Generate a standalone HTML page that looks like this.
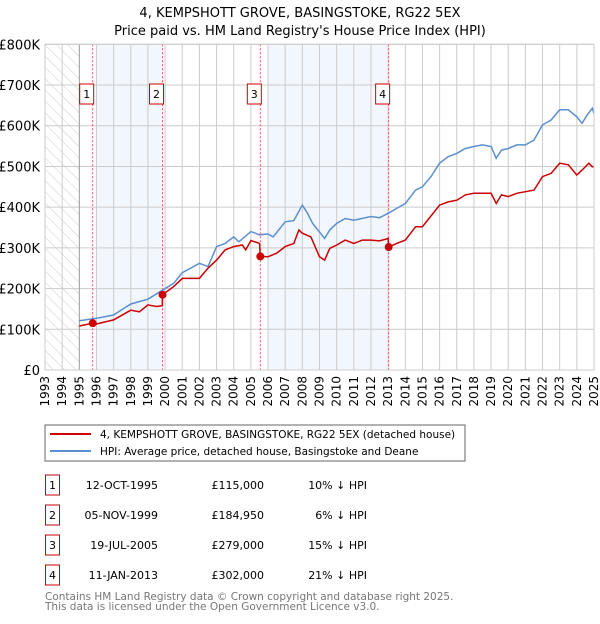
<!DOCTYPE html>
<html><head><meta charset="utf-8"><style>
body{margin:0;background:#fff;font-family:"DejaVu Sans","Liberation Sans",sans-serif;}
svg text{font-family:"DejaVu Sans","Liberation Sans",sans-serif;}
</style></head><body>
<svg id="c" width="600" height="620" viewBox="0 0 600 620" xmlns="http://www.w3.org/2000/svg">
<defs><pattern id="hatch" width="8" height="8" patternUnits="userSpaceOnUse" patternTransform="rotate(-45)"><line x1="0" y1="0" x2="0" y2="8" stroke="#ccc" stroke-width="1"/></pattern></defs>
<text x="300" y="17" text-anchor="middle" font-size="13">4, KEMPSHOTT GROVE, BASINGSTOKE, RG22 5EX</text>
<text x="300" y="35" text-anchor="middle" font-size="13">Price paid vs. HM Land Registry's House Price Index (HPI)</text>
<g id="plot"></g>
<rect x="45" y="425" width="420" height="36" fill="#fff" stroke="#666"/>
<line x1="50" y1="434" x2="91" y2="434" stroke="#cc0000" stroke-width="2"/>
<text x="100" y="438" font-size="10.5">4, KEMPSHOTT GROVE, BASINGSTOKE, RG22 5EX (detached house)</text>
<line x1="50" y1="451" x2="91" y2="451" stroke="#5b8fd0" stroke-width="2"/>
<text x="100" y="455" font-size="10.5">HPI: Average price, detached house, Basingstoke and Deane</text>
<g id="table" font-size="11"></g>
<text x="45" y="600" font-size="10.5" fill="#777">Contains HM Land Registry data © Crown copyright and database right 2025.</text>
<text x="45" y="610" font-size="10.5" fill="#777">This data is licensed under the Open Government Licence v3.0.</text>
</svg>
<script>
const hpiYears=[1995,1996,1997,1998,1999,1999.85,2000.5,2001,2002,2002.5,2003,2003.5,2004,2004.3,2005,2005.5,2006,2006.3,2007,2007.5,2008,2008.3,2008.6,2009.3,2009.6,2010,2010.5,2011,2012,2012.5,2013,2013.5,2014,2014.6,2015,2015.5,2016,2016.5,2017,2017.5,2018,2018.5,2019,2019.3,2019.6,2020,2020.5,2021,2021.5,2022,2022.5,2023,2023.5,2024,2024.3,2024.6,2024.9,2025];
const hpiValues=[121,127,135,162,174,196,213,239,262,254,303,311,327,315,340,332,334,327,364,367,405,385,360,323,344,360,372,368,377,374,385,397,409,442,450,475,508,524,532,544,549,553,549,520,540,544,553,553,565,602,614,639,639,622,606,626,643,630];
const priceYears=[1995,1995.78,1996,1997,1998,1998.5,1999,1999.5,1999.84,1999.85,2000.5,2001,2002,2002.5,2003,2003.5,2004,2004.5,2004.7,2005,2005.5,2005.55,2006,2006.5,2007,2007.5,2007.8,2008,2008.5,2009,2009.3,2009.6,2010,2010.5,2011,2011.5,2012,2012.5,2013,2013.03,2013.5,2014,2014.6,2015,2016,2016.5,2017,2017.5,2018,2018.5,2019,2019.3,2019.6,2020,2020.5,2021,2021.5,2022,2022.5,2023,2023.5,2024,2024.3,2024.7,2024.9,2025];
const priceValues=[108,115,113,123,147,143,160,156,158,185,205,225,225,250,270,295,303,307,295,318,311,279,278,287,303,311,344,336,327,278,270,299,307,319,311,319,319,317,323,302,311,319,352,352,405,413,417,430,434,434,434,409,430,426,434,438,442,475,483,508,504,479,491,508,499,500];
const saleYears=[1995.78,1999.85,2005.55,2013.03];
const saleValues=[115,184.95,279,302];
const saleLabels=["1","2","3","4"];
const saleDates=["12-OCT-1995","05-NOV-1999","19-JUL-2005","11-JAN-2013"];
const salePrices=["£115,000","£184,950","£279,000","£302,000"];
const saleDiffs=["10% ↓ HPI","6% ↓ HPI","15% ↓ HPI","21% ↓ HPI"];
const yTicks=[0,100,200,300,400,500,600,700,800];
const yTickLabels=["£0","£100K","£200K","£300K","£400K","£500K","£600K","£700K","£800K"];
const xStart=1993,xEnd=2025;
const X0=45,X1=594,Y0=370,Y1=44.3;
const xs=y=>X0+(y-xStart)/(xEnd-xStart)*(X1-X0);
const ys=v=>Y0-v/800*(Y0-Y1);
const NS="http://www.w3.org/2000/svg";
const g=document.getElementById('plot');
function mk(t,a,p){const e=document.createElementNS(NS,t);for(const k in a)e.setAttribute(k,a[k]);(p||g).appendChild(e);return e;}
let e;
e=mk('rect',{x:xs(1996),y:Y1,width:xs(1999.85)-xs(1996),height:Y0-Y1,fill:'#f2f6fd'});


e=mk('rect',{x:xs(2006),y:Y1,width:xs(2013.03)-xs(2006),height:Y0-Y1,fill:'#f2f6fd'});


e=mk('rect',{x:X0,y:Y1,width:xs(1995)-X0,height:Y0-Y1,fill:'url(#hatch)'});


for(let i=0;i<yTicks.length;i++){
 e=mk('line',{x1:X0,x2:X1,y1:ys(yTicks[i]),y2:ys(yTicks[i]),stroke:'#ccc'});
 
 
 e=mk('text',{x:40,y:ys(yTicks[i])+5,'text-anchor':'end','font-size':13});
 e.textContent=yTickLabels[i];
 
 
}
for(let yr=xStart;yr<=xEnd;yr++){
 e=mk('line',{x1:xs(yr),x2:xs(yr),y1:Y1,y2:Y0,stroke:yr===1995?'#999':'#ccc'});
 
 
 e=mk('text',{x:0,y:0,'font-size':12,'text-anchor':'end',transform:`translate(${xs(yr)+4},376) rotate(-90)`});
 e.textContent=String(yr);
 
 
}
for(let i=0;i<saleYears.length;i++){
 e=mk('line',{x1:xs(saleYears[i]),x2:xs(saleYears[i]),y1:Y1,y2:Y0,stroke:'#e55','stroke-dasharray':'2,2'});
 
 
 e=mk('rect',{x:xs(saleYears[i])-13,y:84,width:14,height:20,fill:'#fff',stroke:'#cc0000'});
 
 
 e=mk('text',{x:xs(saleYears[i])-6,y:98,'text-anchor':'middle','font-size':11});
 e.textContent=saleLabels[i];
 
 
}
const path=(xa,va)=>xa.map((x,i)=>(i?'L':'M')+xs(x).toFixed(1)+','+ys(va[i]).toFixed(1)).join('');
e=mk('path',{d:path(hpiYears,hpiValues),fill:'none',stroke:'#5b8fd0','stroke-width':1.5});


e=mk('path',{d:path(priceYears,priceValues),fill:'none',stroke:'#cc0000','stroke-width':1.5});


for(let i=0;i<saleYears.length;i++){
 e=mk('circle',{cx:xs(saleYears[i]),cy:ys(saleValues[i]),r:4,fill:'#cc0000'});
 
 
}
e=mk('rect',{x:X0,y:Y1,width:X1-X0,height:Y0-Y1,fill:'none',stroke:'#ccc'});


const t=document.getElementById('table');
for(let i=0;i<saleYears.length;i++){
 const cy=483+i*30;
 e=mk('rect',{x:45.5,y:cy-8,width:14,height:20,fill:'#fff',stroke:'#cc0000'},t);
 
 
 e=mk('text',{x:52.5,y:cy+6,'text-anchor':'middle'},t);e.textContent=saleLabels[i];
 
 
 e=mk('text',{x:158,y:cy+6,'text-anchor':'end'},t);e.textContent=saleDates[i];
 
 
 e=mk('text',{x:264,y:cy+6,'text-anchor':'end'},t);e.textContent=salePrices[i];
 
 
 e=mk('text',{x:367,y:cy+6,'text-anchor':'end'},t);e.textContent=saleDiffs[i];
 
 
}
</script>
</body></html>
